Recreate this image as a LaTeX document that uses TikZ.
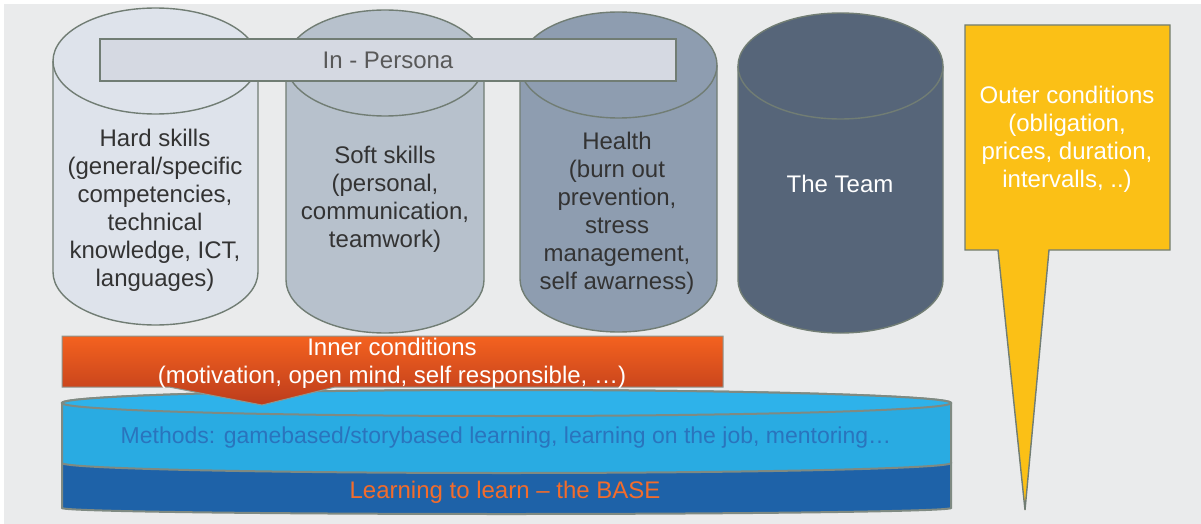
\documentclass[tikz,border=0pt]{standalone}
\usepackage{fontspec}
\setmainfont{Liberation Sans}
\usetikzlibrary{positioning}
\definecolor{backgray}{HTML}{EAEBEC}
\definecolor{rimgray}{HTML}{717D74}
\definecolor{hardfill}{HTML}{DEE3EB}
\definecolor{softfill}{HTML}{B7C1CC}
\definecolor{healthfill}{HTML}{8E9DB0}
\definecolor{teamfill}{HTML}{566579}
\definecolor{personafill}{HTML}{D5D9E2}
\definecolor{outerfill}{HTML}{FBC016}
\definecolor{innertop}{HTML}{F4621F}
\definecolor{innerbottom}{HTML}{BC3C1C}
\definecolor{methodsfill}{HTML}{29ABE2}
\definecolor{methodstop}{HTML}{2EB2EA}
\definecolor{basefill}{HTML}{1E62A8}
\definecolor{methodstext}{HTML}{2A74BD}
\definecolor{basetext}{HTML}{F36C2B}
% cylinder: centre x, x radius, top y, bottom y, y radius, fill
\newcommand{\pillar}[6]{
  \filldraw[rim, fill=#6] (#1-#2,#3) -- (#1-#2,#4)
    arc[start angle=180, end angle=360, x radius=#2pt, y radius=#5pt]
    -- (#1+#2,#3)
    arc[start angle=0, end angle=180, x radius=#2pt, y radius=#5pt] -- cycle;
  \draw[rim] (#1-#2,#3) arc[start angle=180, end angle=360, x radius=#2pt, y radius=#5pt];
}
\begin{document}
\begin{tikzpicture}[x=1pt,y=1pt]
  \tikzstyle{rim}=[draw=rimgray, line width=1.4pt]
  \tikzstyle{words}=[align=center, font=\fontsize{24}{28}\selectfont]
  \useasboundingbox (0,0) rectangle (1201,-524);
  \fill[white] (0,0) rectangle (1201,-524);
  \fill[backgray] (4,-4) rectangle (1201,-524);

  % the four pillars
  \pillar{155.5}{102.5}{-61}{-272}{53}{hardfill}
  \pillar{385}{99}{-63}{-280}{53}{softfill}
  \pillar{618.5}{98.5}{-65}{-279}{53}{healthfill}
  \pillar{840.5}{102.5}{-66}{-280}{53}{teamfill}
  \node [words, text=black!80] (hard) at (155,-210) {Hard skills\\(general/specific\\competencies,\\technical\\knowledge, ICT,\\languages)};
  \node [words, text=black!80] (soft) at (385,-199) {Soft skills\\(personal,\\communication,\\teamwork)};
  \node [words, text=black!80] (health) at (617,-213) {Health\\(burn out\\prevention,\\stress\\management,\\self awarness)};
  \node [words, text=white] (team) at (840,-184) {The Team};

  % in-persona bar
  \filldraw[rim, fill=personafill] (100,-39) rectangle (676,-81);
  \node [words, text=black!65] (persona) at (388,-60) {In - Persona};

  % outer conditions callout
  \filldraw[rim, fill=outerfill] (965,-25) -- (1170,-25) -- (1170,-250) -- (1049,-250)
    -- (1025,-510) -- (998,-250) -- (965,-250) -- cycle;
  \node [words, text=white] (outer) at (1067,-139.5) {Outer conditions\\(obligation,\\prices, duration,\\intervalls, ..)};

  % the base: two flat discs
  \begin{scope}[line width=2pt, draw=rimgray!90]
    \filldraw[fill=basefill, draw=rimgray!90] (62,-463) -- (62,-508)
      arc[start angle=180, end angle=360, x radius=444.5pt, y radius=6pt] -- (951,-463) -- cycle;
    \filldraw[fill=methodsfill, draw=rimgray!90] (62,-403) -- (62,-463)
      arc[start angle=180, end angle=360, x radius=444.5pt, y radius=10pt]
      -- (951,-403) arc[start angle=0, end angle=180, x radius=444.5pt, y radius=13pt] -- cycle;
    \filldraw[fill=methodstop, draw=rimgray!90] (506.5,-403) ellipse [x radius=444.5pt, y radius=13pt];
  \end{scope}
  \node [words, font=\fontsize{23}{28}\selectfont, text=methodstext] (methods) at (506,-438) {Methods: gamebased/storybased learning, learning on the job, mentoring…};
  \node [words, text=basetext] (base) at (505,-492) {Learning to learn – the BASE};

  % inner conditions
  \path[draw=rimgray!80, line width=1pt, top color=innertop, bottom color=innerbottom]
    (62,-336) -- (723,-336) -- (723,-387) -- (335,-387) -- (262,-405) -- (169,-387)
    -- (62,-387) -- cycle;
  \node [words, text=white] (inner) at (392,-363) {Inner conditions\\(motivation, open mind, self responsible, …)};
\end{tikzpicture}
\end{document}
